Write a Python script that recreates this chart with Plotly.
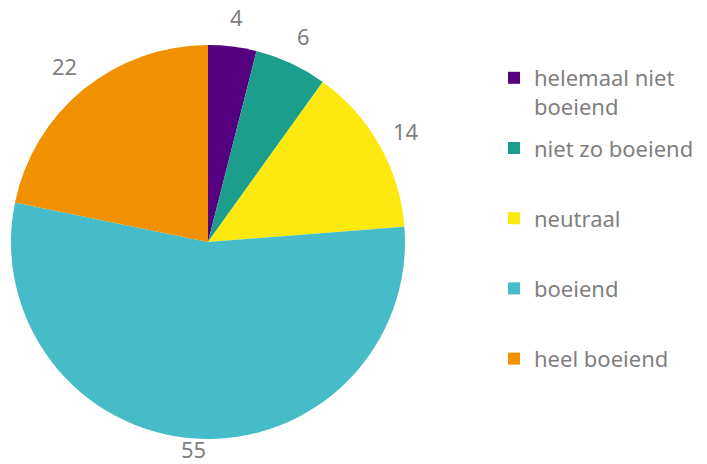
import math
import plotly.graph_objects as go

labels = ["helemaal niet<br>boeiend", "niet zo boeiend", "neutraal", "boeiend", "heel boeiend"]
values = [4, 6, 14, 55, 22]
colors = ["#55007f", "#1b9e8c", "#fde910", "#45bcc8", "#f29100"]

W, H = 707, 464
CX, CY, R = 208, 242, 197  # pie centre / radius in pixels
LABEL_R = R + 30
FS = 22

fig = go.Figure()
fig.add_trace(go.Pie(
    labels=labels, values=values, sort=False, direction="clockwise", rotation=0,
    marker=dict(colors=colors, line=dict(width=0)),
    textinfo="none", showlegend=False, hoverinfo="label+value",
    domain=dict(x=[(CX - R) / W, (CX + R) / W], y=[(H - CY - R) / H, (H - CY + R) / H]),
))

# value labels outside the slices, placed radially from each slice's mid-angle
total = sum(values)
cum = 0
for v in values:
    ang = 2 * math.pi * (cum + v / 2) / total
    cum += v
    x = CX + LABEL_R * math.sin(ang)
    y = CY - LABEL_R * math.cos(ang)
    y = min(max(y, FS / 2 + 4), H - FS / 2 - 4)
    fig.add_annotation(x=x / W, y=1 - y / H, xref="paper", yref="paper",
                       text=str(v), showarrow=False, xanchor="center", yanchor="middle",
                       font=dict(size=FS, color="#7f7f7f", family="Noto Sans"))

for i, (lab, col) in enumerate(zip(labels, colors)):
    name = lab if "<br>" in lab else lab + "<br>&nbsp;"
    fig.add_trace(go.Scatter(
        x=[None], y=[None], mode="markers", name=name,
        marker=dict(symbol="square", size=13, color=col),
        legendgroup=str(i), showlegend=True,
    ))
fig.update_layout(
    width=W, height=H, margin=dict(l=0, r=0, t=0, b=0),
    paper_bgcolor="white", plot_bgcolor="white",
    xaxis=dict(visible=False), yaxis=dict(visible=False),
    font=dict(family="Noto Sans", color="#7f7f7f", size=22),
    legend=dict(x=494 / W, y=(H - 57) / H, xanchor="left", yanchor="top",
                tracegroupgap=10, valign="top", itemsizing="constant",
                font=dict(size=22, color="#7f7f7f")),
)
fig.write_html("out.html", config={"displayModeBar": False},
               post_script="document.body.style.margin='0';document.body.style.overflow='hidden';")
